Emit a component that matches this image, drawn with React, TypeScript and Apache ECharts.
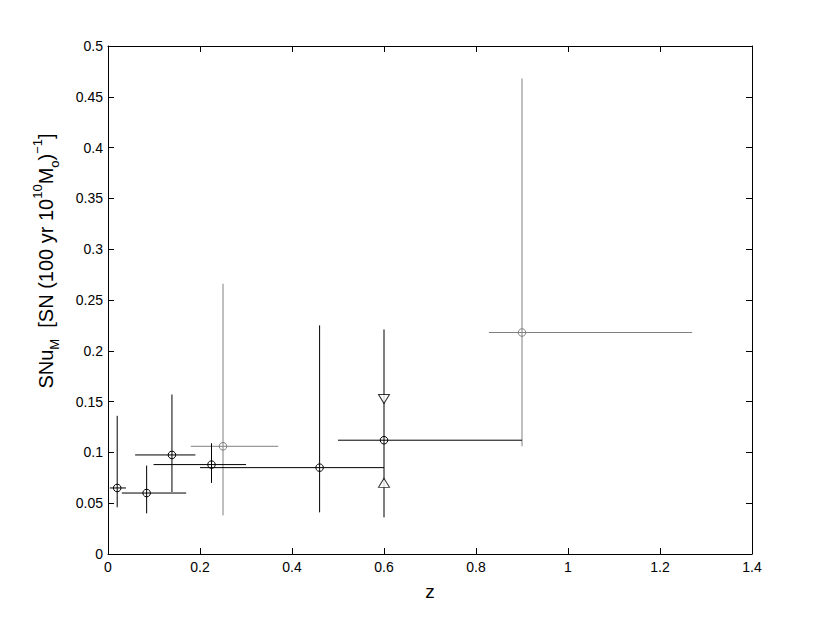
import React, { useEffect, useRef } from "react";
import * as echarts from "echarts";

// Black measurements (z, SNu_M, x-error range, y-error range)
const blackZ = [0.02, 0.084, 0.139, 0.225, 0.46, 0.6];
const blackSNu = [0.065, 0.06, 0.0975, 0.088, 0.085, 0.112];
const blackZLow = [0.004, 0.03, 0.059, 0.099, 0.2, 0.5];
const blackZHigh = [0.039, 0.17, 0.19, 0.3, 0.6, 0.9];
const blackSNuLow = [0.046, 0.04, 0.061, 0.07, 0.041, 0.036];
const blackSNuHigh = [0.136, 0.087, 0.157, 0.109, 0.225, 0.221];

// Gray measurements
const grayZ = [0.25, 0.9];
const graySNu = [0.106, 0.218];
const grayZLow = [0.18, 0.828];
const grayZHigh = [0.37, 1.27];
const graySNuLow = [0.038, 0.106];
const graySNuHigh = [0.266, 0.468];

// Triangle markers at z = 0.6
const downTriangle = [[0.6, 0.1525]];
const upTriangle = [[0.6, 0.07]];

const xTicks = { min: 0, max: 1.4, interval: 0.2 };
const yTicks = { min: 0, max: 0.5, interval: 0.05 };

const FONT = '"Liberation Sans", Arial, Helvetica, sans-serif';

function buildRows(z: number[], s: number[], zl: number[], zh: number[], sl: number[], sh: number[]) {
  return z.map((v, i) => [v, s[i], zl[i], zh[i], sl[i], sh[i]]);
}

function makeRender(color: string) {
  return (params: any, api: any) => {
    const x = api.value(0);
    const y = api.value(1);
    const p = api.coord([x, y]);
    const l = api.coord([api.value(2), y]);
    const r = api.coord([api.value(3), y]);
    const b = api.coord([x, api.value(4)]);
    const t = api.coord([x, api.value(5)]);
    return {
      type: "group",
      children: [
        { type: "line", shape: { x1: l[0], y1: l[1], x2: r[0], y2: r[1] }, style: { stroke: color, lineWidth: 1 } },
        { type: "line", shape: { x1: b[0], y1: b[1], x2: t[0], y2: t[1] }, style: { stroke: color, lineWidth: 1 } },
        { type: "circle", shape: { cx: p[0], cy: p[1], r: 3.8 }, style: { fill: "none", stroke: color, lineWidth: 1 } },
      ],
    };
  };
}

export default function App() {
  const ref = useRef<HTMLDivElement>(null);
  useEffect(() => {
    if (!ref.current) return;
    const chart = echarts.init(ref.current, null, { renderer: "svg" });
    const axisCommon = {
      type: "value",
      splitLine: { show: false },
      axisLine: { show: true, onZero: false, lineStyle: { color: "#000", width: 1 } },
      axisTick: { show: true, inside: true, length: 6, lineStyle: { color: "#000", width: 1 } },
    };
    chart.setOption({
      animation: false,
      backgroundColor: "#fff",
      grid: { left: 108, right: 78, top: 46, bottom: 70 },
      xAxis: [
        {
          ...axisCommon,
          position: "bottom",
          ...xTicks,
          name: "z",
          nameLocation: "middle",
          nameGap: 28,
          nameTextStyle: { fontSize: 19, color: "#000", fontFamily: FONT },
          axisLabel: { show: true, margin: 6, fontSize: 14, color: "#000", fontFamily: FONT },
        },
        {
          ...axisCommon,
          position: "top",
          ...xTicks,
          axisLabel: { show: false },
        },
      ],
      yAxis: [
        {
          ...axisCommon,
          position: "left",
          ...yTicks,
          axisLabel: { show: true, margin: 5, fontSize: 14, color: "#000", fontFamily: FONT },
        },
        {
          ...axisCommon,
          position: "right",
          ...yTicks,
          axisLabel: { show: false },
        },
      ],
      graphic: [
        {
          type: "text",
          x: 46,
          y: 261,
          rotation: Math.PI / 2,
          style: {
            text: "{n|SNu}{sub|M}{n|  [SN (100 yr 10}{sup|10}{n|M}{sub|o}{n|)}{sup|−1}{n|]}",
            align: "center",
            verticalAlign: "middle",
            fill: "#000",
            fontFamily: FONT,
            rich: {
              n: { fontSize: 20, fontFamily: FONT, color: "#000", lineHeight: 30, verticalAlign: "middle" },
              sub: { fontSize: 13, fontFamily: FONT, color: "#000", verticalAlign: "bottom", lineHeight: 15 },
              sup: { fontSize: 13, fontFamily: FONT, color: "#000", verticalAlign: "top", lineHeight: 15 },
            },
          },
        },
      ],
      series: [
        {
          type: "custom",
          xAxisIndex: 0,
          yAxisIndex: 0,
          renderItem: makeRender("#000"),
          data: buildRows(blackZ, blackSNu, blackZLow, blackZHigh, blackSNuLow, blackSNuHigh),
          z: 3,
        },
        {
          type: "custom",
          xAxisIndex: 0,
          yAxisIndex: 0,
          renderItem: makeRender("#808080"),
          data: buildRows(grayZ, graySNu, grayZLow, grayZHigh, graySNuLow, graySNuHigh),
          z: 2,
        },
        {
          type: "scatter",
          xAxisIndex: 0,
          yAxisIndex: 0,
          symbol: "triangle",
          symbolRotate: 180,
          symbolSize: [11, 9],
          itemStyle: { color: "#fff", borderColor: "#000", borderWidth: 1 },
          data: downTriangle,
          z: 4,
        },
        {
          type: "scatter",
          xAxisIndex: 0,
          yAxisIndex: 0,
          symbol: "triangle",
          symbolSize: [11, 9],
          itemStyle: { color: "#fff", borderColor: "#000", borderWidth: 1 },
          data: upTriangle,
          z: 4,
        },
      ],
    });
    return () => chart.dispose();
  }, []);
  return (
    <div
      ref={ref}
      style={{ position: "absolute", left: 0, top: 0, width: 830, height: 624, background: "#fff" }}
    />
  );
}
